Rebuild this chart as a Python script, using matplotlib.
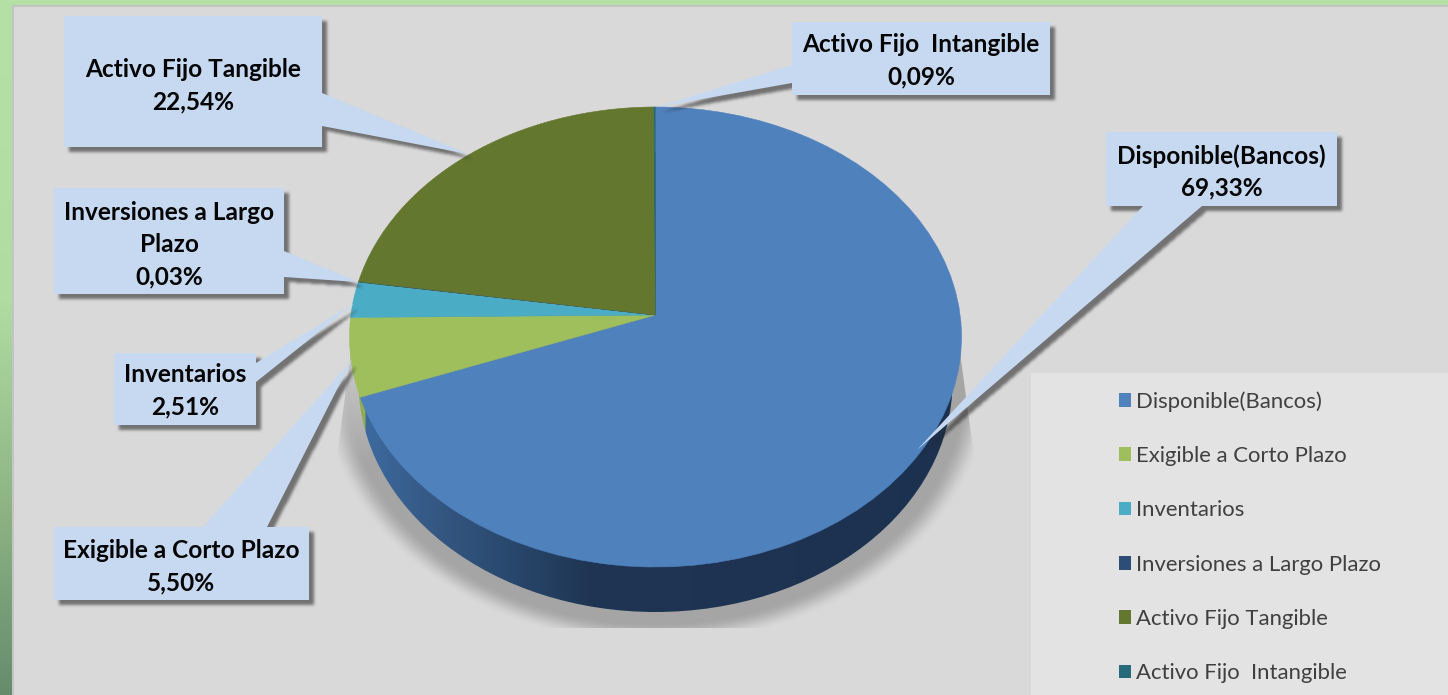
import numpy as np
import matplotlib
matplotlib.use("Agg")
import matplotlib.pyplot as plt
from matplotlib.patches import Polygon, Rectangle, Patch, Ellipse
from matplotlib.path import Path
from matplotlib.transforms import Transform
from matplotlib.colors import to_rgb

# ---- data ----
categories = ["Disponible(Bancos)", "Exigible a Corto Plazo", "Inventarios",
              "Inversiones a Largo Plazo", "Activo Fijo Tangible", "Activo Fijo  Intangible"]
values = [69.33, 5.50, 2.51, 0.03, 22.54, 0.09]
colors = ["#4f81bd", "#9fbf5c", "#4bacc6", "#2c4d75", "#64772f", "#276a7c"]
value_labels = ["69,33%", "5,50%", "2,51%", "0,03%", "22,54%", "0,09%"]
label_names = ["Disponible(Bancos)", "Exigible a Corto Plazo", "Inventarios",
               "Inversiones a Largo\nPlazo", "Activo Fijo Tangible", "Activo Fijo  Intangible"]

# ---- layout (pixels) ----
W, H = 1448, 695
CX, CY, A, B, APEX = 655.5, 337.0, 306.0, 230.0, 22.0
RIM_CY, RIM_A, RIM_B = 382.0, 297.0, 230.0
# callouts: (x0, y0, x1, y1, base point a, base point b, tip, text y)
callouts = {
    0: (1106, 132, 1337, 206, (1143, 206), (1202, 206), (917, 450), 172),
    1: (54, 527, 309, 600, (203, 527), (267, 527), (352, 360), 567),
    2: (114, 353, 256, 425, (256, 363), (256, 382), (355, 303), 391),
    3: (54, 188, 284, 294, (284, 251), (284, 277), (358, 282), 245),
    4: (64, 16, 322, 147, (322, 93), (322, 126), (468, 154), 86),
    5: (792, 22, 1050, 95, (792, 65), (792, 83), (657, 107), 61),
}
LABEL_FS, LEGEND_FS = 17.6, 15.9
CALLOUT_BLUE = "#c6d9f1"

plt.rcParams["font.family"] = ["Lato", "DejaVu Sans"]
fig = plt.figure(figsize=(W / 100, H / 100), dpi=100)
ax = fig.add_axes([0, 0, 1, 1])
ax.set_axis_off()


class TiltedDisc(Transform):
    """Perspective view of the unit disc: circle to ellipse, centre to off-centre apex."""
    input_dims = output_dims = 2

    def __init__(self):
        super().__init__()
        self.k = APEX / B
        self.g = A * np.sqrt(1 - self.k ** 2)

    def transform_non_affine(self, xy):
        xy = np.asarray(xy, float)
        u, v = xy[:, 0], xy[:, 1]
        d = 1 + self.k * v
        return np.column_stack([CX + self.g * u / d, CY - (B * v + APEX) / d])


def blend(stops, x):
    xs = [s[0] for s in stops]
    rgb = np.array([to_rgb(s[1]) for s in stops])
    return np.stack([np.interp(x, xs, rgb[:, i]) for i in range(3)], axis=-1)


def box_blur(a, n, passes=3):
    kernel = np.ones(n) / n
    for _ in range(passes):
        a = np.apply_along_axis(lambda c: np.convolve(c, kernel, mode="same"), 0, a)
        a = np.apply_along_axis(lambda c: np.convolve(c, kernel, mode="same"), 1, a)
    return a


# page background: green band going darker downward
bg = blend([(0, "#b6e1a6"), (300, "#b0dca2"), (500, "#8fb585"), (695, "#658b6c")], np.arange(H))
ax.imshow(bg[:, None, :], extent=(0, W, H, 0), aspect="auto", zorder=0)
ax.add_patch(Rectangle((13, 6), W, H, fc="#d9d9d9", ec="#c4c4c4", lw=1.5, zorder=1))

# soft shadow under the pie
X, Y = np.meshgrid(np.arange(W) + .5, np.arange(H) + .5)
r = np.sqrt(((X - CX) / 335) ** 2 + ((Y - 383) / 262) ** 2)
sh = np.clip((1 - r) / 0.085, 0, 1)
sh = sh * sh * (3 - 2 * sh)
limit = 302 + np.clip(Y - 330, 0, None) * 0.135
sh = sh * np.clip(limit - np.abs(X - CX), 0, 1) * (Y > 330) * (Y < 628)
sh_img = np.zeros((H, W, 4))
sh_img[..., 3] = 0.24 * sh * np.where(X < CX, np.clip(0.45 + (Y - 380) / 150, 0.45, 1), 1)
ax.imshow(sh_img, extent=(0, W, H, 0), aspect="auto", zorder=2)

# legend panel
ax.add_patch(Rectangle((1031, 373), W - 1031, H - 373, fc="#e3e3e3", ec="none", zorder=2.5))

# pie side wall
rim = blend([(360, "#8fae4f"), (364, "#8fae4f"), (366, "#3c6a9f"), (420, "#375b88"),
             (500, "#2a4a70"), (590, "#1f3553"), (1000, "#1c314f")], np.arange(W))
im = ax.imshow(rim[None, :, :], extent=(0, W, H, 0), aspect="auto", zorder=3)
im.set_clip_path(Ellipse((CX, RIM_CY), 2 * RIM_A, 2 * RIM_B, transform=ax.transData))

# pie top
wedges, _ = ax.pie(values, colors=colors, startangle=90, counterclock=False, radius=1,
                   frame=True, wedgeprops=dict(linewidth=0.4, zorder=4))
disc = TiltedDisc()
for w, c in zip(wedges, colors):
    w.set_edgecolor(c)
    w.set_transform(disc + ax.transData)

ax.set_aspect("auto")
ax.set_xlim(0, W)
ax.set_ylim(H, 0)
ax.set_xticks([])
ax.set_yticks([])
ax.set_axis_off()

# callouts
pixels = np.column_stack([X.ravel(), Y.ravel()])
cast = np.zeros((H, W))
for i, (x0, y0, x1, y1, a, b, tip, ty) in callouts.items():
    # walk the rectangle outline, inserting the pointer on the side where its base sits
    if a[1] == y0 and b[1] == y0:      # top
        pts = [(x0, y0), a, tip, b, (x1, y0), (x1, y1), (x0, y1)]
    elif a[1] == y1 and b[1] == y1:    # bottom
        pts = [(x0, y0), (x1, y0), (x1, y1), b, tip, a, (x0, y1)]
    elif a[0] == x1:                   # right
        pts = [(x0, y0), (x1, y0), a, tip, b, (x1, y1), (x0, y1)]
    else:                              # left
        pts = [(x0, y0), (x1, y0), (x1, y1), (x0, y1), b, tip, a]
    pts = np.array(pts, float)
    inside = Path(pts + [5, 5]).contains_points(pixels).reshape(H, W)
    cast = np.maximum(cast, inside.astype(float))
    ax.add_patch(Polygon(pts, closed=True, fc=CALLOUT_BLUE, ec="none", zorder=6))
    ax.text((x0 + x1) / 2, ty, f"{label_names[i]}\n{value_labels[i]}", ha="center", va="center",
            fontsize=LABEL_FS, fontweight="bold", color="#050505", linespacing=1.48, zorder=7)

cast = box_blur(cast, 3, passes=3)
cast_img = np.zeros((H, W, 4))
cast_img[..., :3] = 0.15
cast_img[..., 3] = 0.58 * cast
ax.imshow(cast_img, extent=(0, W, H, 0), aspect="auto", zorder=5)
ax.set_xlim(0, W)
ax.set_ylim(H, 0)

# legend
handles = [Patch(fc=c, ec="none") for c in colors]
leg = ax.legend(handles, categories, loc="upper left", bbox_to_anchor=(1119, 391),
                bbox_transform=ax.transData, frameon=False, fontsize=LEGEND_FS,
                labelcolor="#404040", borderpad=0, borderaxespad=0, handlelength=0.54,
                handleheight=0.59, handletextpad=0.22, labelspacing=1.555)
leg.set_zorder(8)

fig.savefig("out.png", dpi=100)
